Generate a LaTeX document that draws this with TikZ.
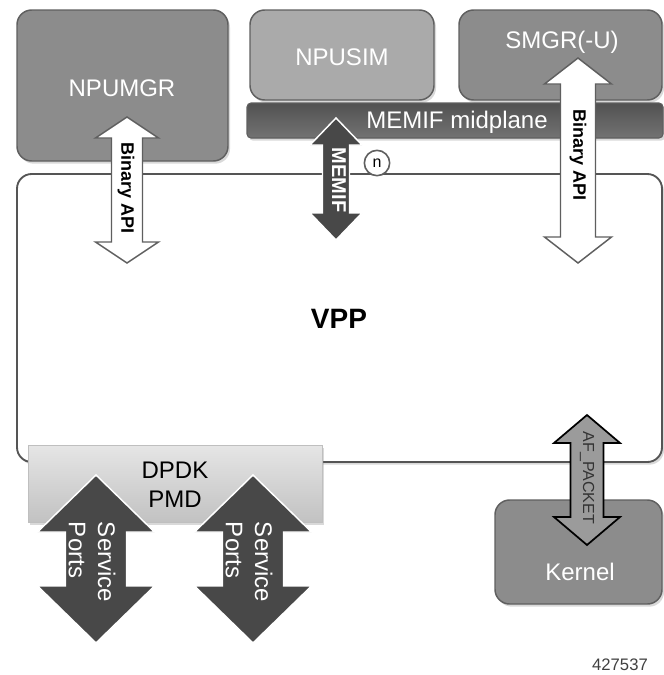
\documentclass[tikz,border=0pt]{standalone}
\usepackage{fontspec}
\setmainfont{Liberation Sans}
\usetikzlibrary{shadows}
\definecolor{boxgray}{RGB}{140,140,140}
\definecolor{lightbox}{RGB}{170,170,170}
\definecolor{edgegray}{RGB}{95,95,95}
\definecolor{darkarrow}{RGB}{72,72,72}
\definecolor{pktgray}{RGB}{155,155,155}
\definecolor{vppedge}{RGB}{85,85,85}
\newcommand\vdarrow[7][]{%
  \path[#1] (#2,#3) -- ({#2+#6},{#3+#7}) -- ({#2+#5},{#3+#7}) -- ({#2+#5},{#4-#7})
    -- ({#2+#6},{#4-#7}) -- (#2,#4) -- ({#2-#6},{#4-#7}) -- ({#2-#5},{#4-#7})
    -- ({#2-#5},{#3+#7}) -- ({#2-#6},{#3+#7}) -- cycle;}
\begin{document}
\begin{tikzpicture}[x=0.75pt,y=-0.75pt,
  shade/.style={drop shadow={opacity=0.3,shadow xshift=1.5pt,shadow yshift=-2pt}},
  graybox/.style={draw=edgegray,line width=1.1pt,rounded corners=11pt,shade},
  wlbl/.style={text=white,font=\fontsize{18}{21}\selectfont,inner sep=0pt},
  blbl/.style={text=black,font=\fontsize{18}{22}\selectfont,inner sep=0pt,align=center},
  apilbl/.style={text=black,font=\bfseries\fontsize{13.5}{16}\selectfont,rotate=-90,inner sep=0pt},
  whitearrow/.style={fill=white,draw=edgegray,line width=1.1pt,line join=miter},
  darkarr/.style={fill=darkarrow,draw=white,line width=1.1pt,line join=miter},
  pktarrow/.style={fill=pktgray,draw=black,line width=1.3pt,line join=miter}]
\useasboundingbox (0,0) rectangle (664,675);

% VPP box
\draw[draw=vppedge,line width=1.4pt,fill=white,rounded corners=11pt,shade] (17,174) rectangle (662,462);
\node[font=\bfseries\fontsize{21}{24}\selectfont,inner sep=0pt] (vpp) at (339,319) {VPP};

% top boxes
\draw[graybox,fill=boxgray] (17,10) rectangle (228,161);
\node[wlbl] (npumgr) at (122,88) {NPUMGR};
\draw[graybox,fill=lightbox] (250,10) rectangle (434,100);
\node[wlbl] (npusim) at (342,57) {NPUSIM};
\draw[graybox,fill=boxgray] (459,10) rectangle (662,100);
\node[wlbl] (smgr) at (562,42) {SMGR(-U)};

% MEMIF midplane bar
\draw[draw=edgegray,line width=0.8pt,top color=black!68,bottom color=black!55,rounded corners=3pt,shade] (247,103) rectangle (663,138);
\node[wlbl] (midplane) at (457,122) {MEMIF midplane};

% DPDK PMD
\draw[draw=black!25,line width=0.6pt,top color=black!10,bottom color=black!24,shade] (28,445) rectangle (322,522);
\node[blbl] (dpdk) at (175,485) {DPDK\\PMD};

% Kernel
\draw[graybox,fill=boxgray] (495,500) rectangle (662,604);
\node[wlbl] (kernel) at (580,572) {Kernel};

% arrows
\vdarrow[whitearrow]{127}{117}{263}{15.5}{31.5}{21}
\node[apilbl] (api1) at (126,188) {Binary API};

\vdarrow[darkarr]{336}{118}{240}{13.5}{26}{27}
\node[text=white,font=\bfseries\fontsize{15}{18}\selectfont,rotate=-90,inner sep=0pt] (memif) at (339,180) {MEMIF};

\node[circle,draw=edgegray,line width=1.2pt,fill=white,minimum size=19pt,inner sep=0pt,font=\fontsize{12}{14}\selectfont] (n) at (377,163) {n};

\vdarrow[whitearrow]{578}{58}{263}{17.5}{33.5}{26}
\node[apilbl] (api2) at (578,155) {Binary API};

\vdarrow[darkarr]{96}{475}{643}{30.5}{58.5}{57}
\node[wlbl,rotate=-90,align=left,font=\fontsize{18}{22}\selectfont] (sp1) at (92,562) {Service\\Ports};
\vdarrow[darkarr]{253}{475}{643}{30.5}{58.5}{57}
\node[wlbl,rotate=-90,align=left,font=\fontsize{18}{22}\selectfont] (sp2) at (249,562) {Service\\Ports};

\vdarrow[pktarrow]{587}{415}{545}{16.5}{33}{28}
\node[text=black!80,font=\fontsize{12}{14}\selectfont,rotate=-90,inner sep=0pt] (afp) at (587,478) {AF\_PACKET};

\node[text=black!75,font=\fontsize{12.5}{14}\selectfont,inner sep=0pt] (fig) at (620,665) {427537};
\end{tikzpicture}
\end{document}
